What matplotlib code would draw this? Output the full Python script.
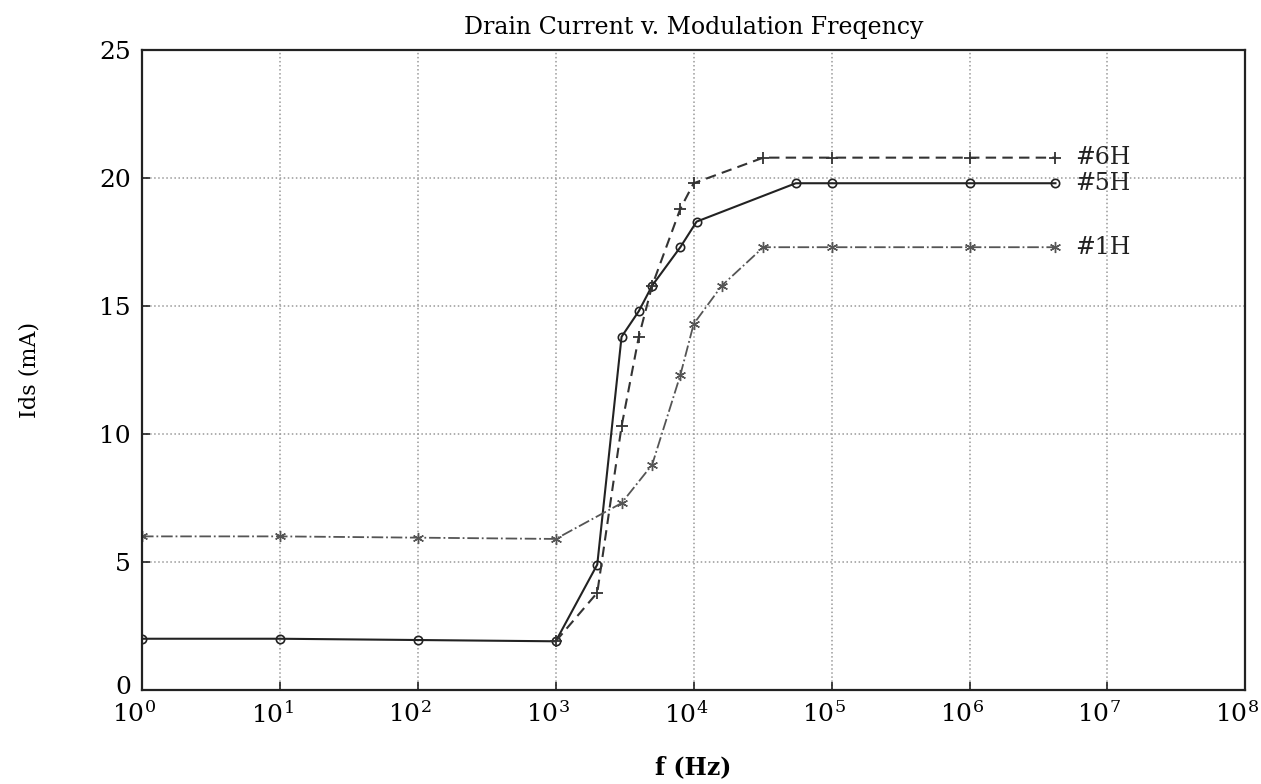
import matplotlib
matplotlib.use("Agg")
import matplotlib.pyplot as plt
import matplotlib.transforms as mtransforms

plt.rcParams['font.family'] = ['DejaVu Serif']
plt.rcParams['mathtext.fontset'] = 'dejavuserif'

# frequency (Hz) and drain current (mA)
f_5h = [1, 10, 100, 1000, 2000, 3000, 4000, 5000, 8000, 10500, 55000, 1e5, 1e6, 4.2e6]
i_5h = [2.0, 2.0, 1.95, 1.9, 4.9, 13.8, 14.8, 15.8, 17.3, 18.3, 19.8, 19.8, 19.8, 19.8]

f_6h = [1000, 2000, 3000, 4000, 5000, 8000, 10000, 32000, 1e5, 1e6, 4.2e6]
i_6h = [1.9, 3.8, 10.3, 13.8, 15.8, 18.8, 19.8, 20.8, 20.8, 20.8, 20.8]

f_1h = [1, 10, 100, 1000, 3000, 5000, 8000, 10000, 16000, 32000, 1e5, 1e6, 4.2e6]
i_1h = [6.0, 6.0, 5.95, 5.9, 7.3, 8.8, 12.3, 14.3, 15.8, 17.3, 17.3, 17.3, 17.3]

labels = ['#6H', '#5H', '#1H']
label_y = [20.8, 19.8, 17.3]

fig = plt.figure(figsize=(12.61, 7.84), dpi=100)
ax = fig.add_axes([0.1126, 0.120, 0.875, 0.816])

ax.plot(f_5h, i_5h, '-', color='#222222', lw=1.5, marker='o', ms=6,
        mfc='none', mec='#222222', mew=1.2)
ax.plot(f_6h, i_6h, '--', color='#333333', lw=1.5, marker='+', ms=9,
        mew=1.3, dashes=(5, 3))
ax.plot(f_1h, i_1h, '-.', color='#555555', lw=1.3, marker=(6, 2, 0), ms=8,
        mew=1.0)

for lab, yv in zip(labels, label_y):
    ax.text(5.8e6, yv, lab, fontsize=17, va='center', ha='left', color='#222222')

ax.set_xscale('log')
ax.set_xlim(1, 1e8)
ax.set_ylim(0, 25)
ax.set_yticks([0, 5, 10, 15, 20, 25])
ax.set_xticks([10**k for k in range(9)])
ax.set_xticklabels([r'$\mathregular{10^{%d}}$' % k for k in range(9)])
ax.minorticks_off()
ax.tick_params(direction='in', labelsize=18, length=6, width=1.2, pad=8, color='#222222')
shift = mtransforms.ScaledTranslation(-8 / 100, 0, fig.dpi_scale_trans)
for lbl in ax.get_xticklabels():
    lbl.set_transform(lbl.get_transform() + shift)
# lift the "0" a little so it does not touch 10^0
up = mtransforms.ScaledTranslation(0, 5 / 100, fig.dpi_scale_trans)
ylbl0 = ax.get_yticklabels()[0]
ylbl0.set_transform(ylbl0.get_transform() + up)
ax.grid(True, linestyle=':', color='#999999', lw=1.1)
for s in ax.spines.values():
    s.set_linewidth(1.6)
    s.set_color('#222222')

ax.set_title('Drain Current v. Modulation Freqency', fontsize=17, pad=12)
ax.set_xlabel('f (Hz)', fontsize=17, fontweight='bold', labelpad=20)
ax.set_ylabel('Ids (mA)', fontsize=16, labelpad=42)

fig.savefig('out.png', dpi=100)
